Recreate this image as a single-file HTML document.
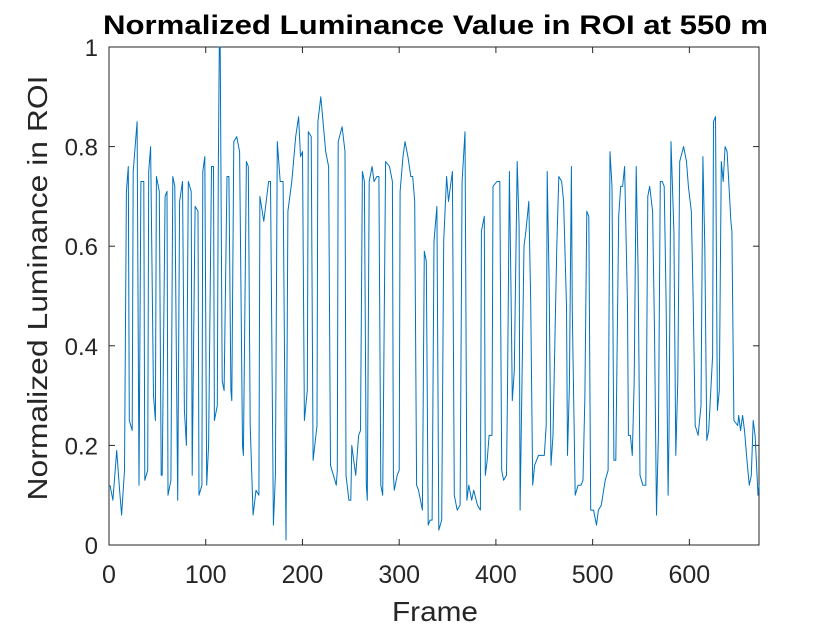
<!DOCTYPE html>
<html><head><meta charset="utf-8"><style>
body{margin:0;background:#fff;}
svg text{font-family:"Liberation Sans",Arial,sans-serif;fill:#262626;}
</style></head><body>
<svg id="chart" width="840" height="630" viewBox="0 0 840 630" xmlns="http://www.w3.org/2000/svg">
<rect x="0" y="0" width="840" height="630" fill="#fff"/>
<text x="103" y="34" font-size="27" font-weight="bold" textLength="665" lengthAdjust="spacingAndGlyphs" style="fill:#000">Normalized Luminance Value in ROI  at 550 m</text>
<text transform="translate(47,288) rotate(-90)" font-size="28" text-anchor="middle" textLength="425" lengthAdjust="spacingAndGlyphs">Normalized Luminance in ROI</text>
<text x="435" y="621" font-size="28" text-anchor="middle" textLength="86" lengthAdjust="spacingAndGlyphs">Frame</text>
<g id="axes"></g>
</svg>
<script>
const frames=[1,4,8,11,13,16,18,20,21,24,25,29,31,33,36,37,40,41,43,46,48,49,52,54,55,58,60,61,64,66,68,71,73,76,78,80,82,85,86,89,92,93,96,97,99,101,103,106,108,109,112,113,114,115,117,119,122,124,126,127,129,132,135,138,139,142,144,146,149,152,155,156,160,165,167,170,172,174,177,180,183,185,189,193,196,198,200,202,205,206,209,211,215,216,219,224,227,229,232,235,236,237,241,244,245,248,250,251,255,258,260,262,264,266,267,269,272,274,277,279,281,283,286,290,293,294,295,298,300,301,304,306,309,312,314,316,318,320,324,326,328,330,332,334,336,339,341,344,346,349,351,353,355,357,360,363,365,368,370,372,375,377,381,384,385,388,389,391,393,396,397,401,404,406,408,411,412,414,416,417,419,422,424,425,429,431,434,436,438,440,444,447,450,452,453,455,457,459,463,465,468,470,473,474,476,478,479,482,485,488,490,492,494,496,498,501,504,506,509,513,516,518,520,522,524,527,529,531,533,536,537,539,541,543,545,547,549,552,555,557,559,562,564,566,568,570,572,574,576,578,579,581,584,586,588,590,594,597,599,602,604,606,609,612,614,616,618,620,624,625,627,629,631,633,635,637,639,643,644,646,650,651,653,655,657,660,662,664,666,668,671,672];
const luminance=[0.12,0.09,0.19,0.11,0.06,0.15,0.71,0.76,0.25,0.23,0.75,0.85,0.12,0.73,0.73,0.13,0.15,0.75,0.80,0.30,0.25,0.74,0.71,0.14,0.14,0.70,0.71,0.10,0.13,0.74,0.72,0.09,0.69,0.73,0.27,0.20,0.73,0.71,0.14,0.68,0.67,0.10,0.12,0.75,0.78,0.12,0.20,0.76,0.76,0.25,0.28,0.75,1.0,1.0,0.33,0.31,0.74,0.74,0.31,0.29,0.81,0.82,0.79,0.20,0.18,0.77,0.76,0.24,0.06,0.11,0.10,0.70,0.65,0.73,0.73,0.04,0.14,0.81,0.73,0.73,0.01,0.67,0.73,0.82,0.86,0.78,0.79,0.25,0.31,0.83,0.82,0.17,0.24,0.85,0.90,0.79,0.76,0.16,0.14,0.12,0.15,0.81,0.84,0.79,0.14,0.09,0.09,0.20,0.14,0.22,0.23,0.75,0.73,0.12,0.09,0.73,0.76,0.73,0.74,0.74,0.12,0.10,0.77,0.76,0.73,0.14,0.11,0.14,0.15,0.71,0.78,0.81,0.78,0.74,0.74,0.69,0.12,0.11,0.07,0.59,0.57,0.04,0.05,0.05,0.61,0.68,0.03,0.05,0.61,0.74,0.69,0.72,0.75,0.10,0.07,0.08,0.73,0.83,0.09,0.12,0.09,0.11,0.08,0.07,0.63,0.66,0.14,0.17,0.22,0.22,0.72,0.73,0.73,0.15,0.13,0.14,0.31,0.75,0.45,0.29,0.35,0.77,0.64,0.07,0.60,0.63,0.69,0.49,0.12,0.16,0.18,0.18,0.18,0.24,0.75,0.53,0.16,0.22,0.60,0.74,0.73,0.69,0.48,0.18,0.32,0.76,0.47,0.10,0.12,0.12,0.13,0.30,0.67,0.66,0.07,0.07,0.04,0.07,0.08,0.13,0.15,0.79,0.72,0.17,0.17,0.66,0.72,0.72,0.76,0.48,0.22,0.22,0.18,0.33,0.76,0.55,0.14,0.12,0.12,0.70,0.72,0.67,0.43,0.06,0.22,0.73,0.73,0.72,0.49,0.10,0.22,0.81,0.63,0.18,0.33,0.77,0.80,0.77,0.72,0.67,0.49,0.24,0.22,0.28,0.78,0.60,0.21,0.23,0.38,0.85,0.86,0.27,0.31,0.77,0.73,0.80,0.79,0.65,0.63,0.25,0.24,0.26,0.23,0.26,0.23,0.16,0.12,0.14,0.25,0.22,0.10,0.12];
const xTicks=[0,100,200,300,400,500,600];
const yTicks=[0,0.2,0.4,0.6,0.8,1];
const yTickLabels=["0","0.2","0.4","0.6","0.8","1"];

const L=109,T=47,R=759,B=545,XMAX=672;
const sx=v=>L+(v/XMAX)*(R-L);
const sy=v=>B-v*(B-T);
const NS='http://www.w3.org/2000/svg';
const g=document.getElementById('axes');
function mk(tag,attrs){const e=document.createElementNS(NS,tag);for(const k in attrs)e.setAttribute(k,attrs[k]);g.appendChild(e);return e;}

const box=mk('rect',{x:L,y:T,width:R-L,height:B-T,fill:'none',stroke:'#262626','stroke-width':1});



xTicks.forEach(t=>{
  const x=sx(t);
  const a=mk('line',{x1:x,y1:B,x2:x,y2:B-6,stroke:'#262626'});
  
  
  const b=mk('line',{x1:x,y1:T,x2:x,y2:T+6,stroke:'#262626'});
  
  
  const tx=mk('text',{x:x,y:B+38,'font-size':25,'text-anchor':'middle'});
  tx.textContent=String(t);
  
  
});
yTicks.forEach((t,i)=>{
  const y=sy(t);
  const a=mk('line',{x1:L,y1:y,x2:L+6,y2:y,stroke:'#262626'});
  
  
  const b=mk('line',{x1:R,y1:y,x2:R-6,y2:y,stroke:'#262626'});
  
  
  const tx=mk('text',{x:L-11,y:y+9,'font-size':24,'text-anchor':'end'});
  tx.textContent=yTickLabels[i];
  
  
});
const d=frames.map((f,i)=>(i?'L':'M')+sx(f).toFixed(1)+' '+sy(luminance[i]).toFixed(1)).join(' ');
const p=mk('path',{d:d,fill:'none',stroke:'#0072BD','stroke-width':1,'stroke-linejoin':'round'});


</script>
</body></html>
